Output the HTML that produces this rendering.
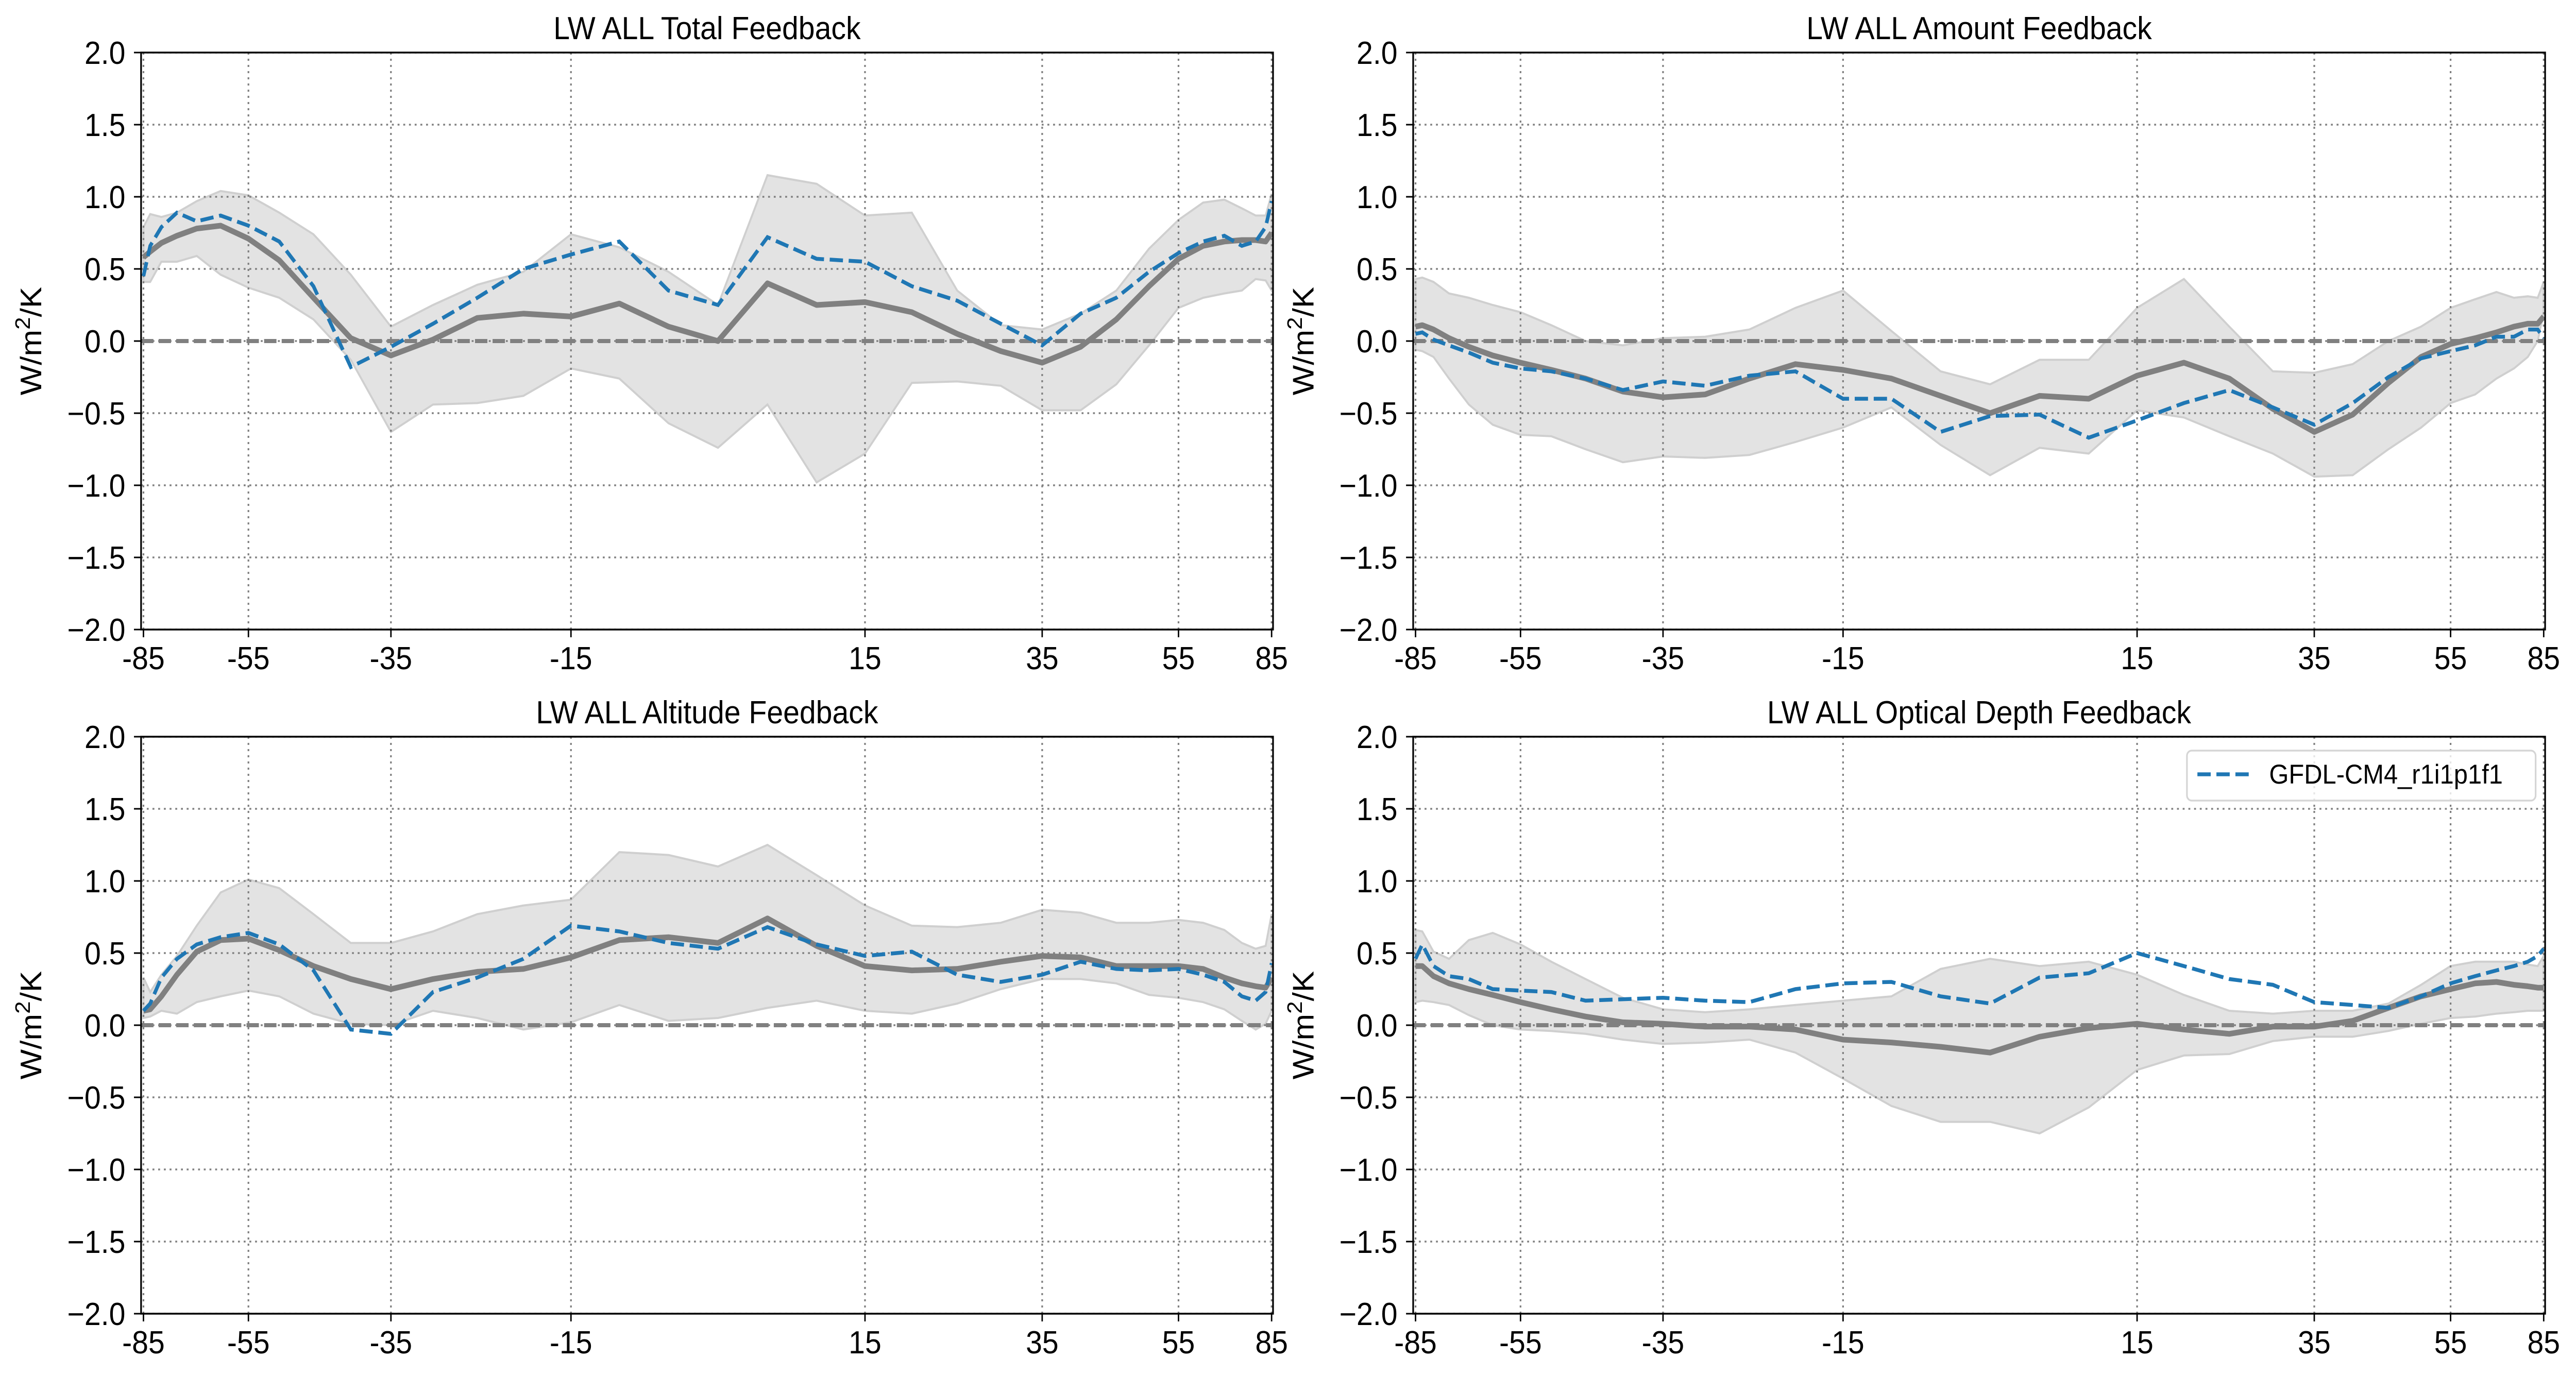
<!DOCTYPE html>
<html><head><meta charset="utf-8">
<style>
html,body{margin:0;padding:0;background:#fff;width:100%;height:100%;overflow:hidden;}
svg{display:block;position:fixed;left:0;top:0;width:100vw;height:100vh;}
text{font-family:"Liberation Sans","DejaVu Sans",sans-serif;fill:#000;}
</style></head>
<body>
<svg id="fig" xmlns="http://www.w3.org/2000/svg" viewBox="0 0 5423 2669" preserveAspectRatio="none"></svg>
<script>
const lats = [-85,-80,-75,-70,-65,-60,-55,-50,-45,-40,-35,-30,-25,-20,-15,-10,-5,0,5,10,15,20,25,30,35,40,45,50,55,60,65,70,75,80,85];
const xTickLabels = [-85,-55,-35,-15,15,35,55,85];
const yTickValues = [2.0,1.5,1.0,0.5,0.0,-0.5,-1.0,-1.5,-2.0];
const yTickLabels = ["2.0","1.5","1.0","0.5","0.0","\u22120.5","\u22121.0","\u22121.5","\u22122.0"];
const titles = ["LW ALL Total Feedback","LW ALL Amount Feedback","LW ALL Altitude Feedback","LW ALL Optical Depth Feedback"];
const legendLabel = "GFDL-CM4_r1i1p1f1";

// Panel 1: Total
const totalMean = [0.58,0.62,0.68,0.73,0.78,0.80,0.71,0.56,0.30,0.02,-0.10,0.01,0.16,0.19,0.17,0.26,0.10,0.00,0.40,0.25,0.27,0.20,0.05,-0.07,-0.15,-0.04,0.15,0.38,0.57,0.66,0.69,0.70,0.70,0.69,0.75];
const totalUpper = [0.79,0.88,0.86,0.89,0.97,1.04,1.01,0.89,0.74,0.46,0.10,0.25,0.39,0.48,0.74,0.65,0.48,0.25,1.15,1.09,0.87,0.89,0.35,0.11,0.08,0.19,0.35,0.64,0.84,0.96,0.98,0.92,0.87,0.87,1.02];
const totalLower = [0.41,0.41,0.55,0.55,0.59,0.46,0.37,0.30,0.15,-0.13,-0.63,-0.44,-0.43,-0.38,-0.19,-0.26,-0.57,-0.74,-0.44,-0.98,-0.78,-0.29,-0.28,-0.31,-0.48,-0.48,-0.30,-0.03,0.23,0.30,0.33,0.35,0.43,0.42,0.35];
const totalModel = [0.45,0.66,0.79,0.89,0.83,0.87,0.80,0.69,0.38,-0.18,-0.04,0.12,0.30,0.50,0.60,0.69,0.35,0.25,0.72,0.57,0.55,0.38,0.28,0.12,-0.03,0.19,0.30,0.48,0.61,0.69,0.73,0.66,0.69,0.79,0.97];

// Panel 2: Amount
const amountMean = [0.10,0.11,0.08,0.02,-0.04,-0.10,-0.15,-0.20,-0.26,-0.35,-0.39,-0.37,-0.26,-0.16,-0.20,-0.26,-0.38,-0.50,-0.38,-0.40,-0.24,-0.15,-0.26,-0.47,-0.63,-0.51,-0.29,-0.11,-0.02,0.02,0.06,0.10,0.12,0.12,0.17];
const amountUpper = [0.43,0.44,0.41,0.33,0.30,0.25,0.20,0.11,0.00,-0.03,0.02,0.03,0.08,0.23,0.35,0.07,-0.21,-0.30,-0.13,-0.13,0.23,0.43,0.10,-0.21,-0.22,-0.16,0.00,0.10,0.23,0.29,0.34,0.30,0.31,0.30,0.41];
const amountLower = [-0.06,-0.07,-0.11,-0.26,-0.44,-0.58,-0.65,-0.66,-0.75,-0.84,-0.80,-0.81,-0.79,-0.70,-0.60,-0.46,-0.72,-0.93,-0.74,-0.78,-0.48,-0.53,-0.66,-0.78,-0.94,-0.93,-0.75,-0.60,-0.43,-0.37,-0.26,-0.19,-0.11,0.00,0.20];
const amountModel = [0.05,0.06,0.01,-0.03,-0.08,-0.15,-0.19,-0.21,-0.26,-0.34,-0.28,-0.31,-0.24,-0.21,-0.40,-0.40,-0.63,-0.52,-0.51,-0.67,-0.55,-0.43,-0.34,-0.46,-0.58,-0.43,-0.25,-0.12,-0.07,-0.03,0.03,0.03,0.08,0.08,0.02];

// Panel 3: Altitude
const altMean = [0.10,0.11,0.20,0.35,0.51,0.59,0.60,0.52,0.41,0.32,0.25,0.32,0.37,0.39,0.47,0.59,0.61,0.57,0.74,0.55,0.41,0.38,0.39,0.44,0.48,0.47,0.41,0.41,0.41,0.39,0.33,0.29,0.27,0.26,0.33];
const altUpper = [0.33,0.23,0.35,0.48,0.69,0.92,1.01,0.95,0.77,0.57,0.57,0.65,0.77,0.83,0.87,1.20,1.18,1.10,1.25,1.04,0.83,0.69,0.68,0.71,0.80,0.78,0.71,0.71,0.73,0.71,0.66,0.57,0.53,0.55,0.77];
const altLower = [0.05,0.06,0.10,0.08,0.16,0.20,0.24,0.20,0.08,0.01,0.00,0.10,0.05,-0.03,0.02,0.14,0.03,0.05,0.12,0.17,0.10,0.08,0.15,0.25,0.32,0.32,0.29,0.21,0.19,0.16,0.11,0.03,-0.03,0.01,0.10];
const altModel = [0.10,0.15,0.33,0.46,0.56,0.61,0.64,0.56,0.38,-0.03,-0.06,0.23,0.33,0.46,0.69,0.65,0.57,0.53,0.68,0.56,0.48,0.51,0.35,0.30,0.35,0.44,0.39,0.38,0.39,0.35,0.30,0.20,0.17,0.23,0.43];

// Panel 4: Optical depth
const optMean = [0.41,0.41,0.34,0.29,0.25,0.21,0.16,0.11,0.06,0.02,0.01,-0.01,-0.01,-0.03,-0.10,-0.12,-0.15,-0.19,-0.08,-0.02,0.01,-0.03,-0.06,-0.01,-0.01,0.03,0.12,0.20,0.25,0.29,0.30,0.28,0.27,0.26,0.26];
const optUpper = [0.66,0.65,0.51,0.46,0.59,0.64,0.56,0.44,0.32,0.19,0.11,0.09,0.11,0.14,0.17,0.20,0.39,0.46,0.41,0.44,0.35,0.21,0.10,0.08,0.10,0.10,0.15,0.28,0.41,0.44,0.44,0.44,0.42,0.41,0.48];
const optLower = [0.16,0.17,0.16,0.14,0.07,0.00,-0.03,-0.04,-0.06,-0.10,-0.13,-0.12,-0.10,-0.19,-0.37,-0.56,-0.67,-0.67,-0.75,-0.57,-0.31,-0.21,-0.20,-0.11,-0.08,-0.08,-0.04,0.01,0.05,0.06,0.08,0.09,0.10,0.10,0.10];
const optModel = [0.46,0.56,0.41,0.34,0.32,0.25,0.24,0.23,0.17,0.18,0.19,0.17,0.16,0.25,0.29,0.30,0.20,0.15,0.33,0.36,0.50,0.41,0.32,0.28,0.16,0.14,0.12,0.20,0.29,0.34,0.38,0.41,0.44,0.48,0.53];

const panels = [
  {name:"total", title:titles[0], mean:totalMean, upper:totalUpper, lower:totalLower, model:totalModel, left:297, top:102, legend:false},
  {name:"amount", title:titles[1], mean:amountMean, upper:amountUpper, lower:amountLower, model:amountModel, left:2975, top:102, legend:false},
  {name:"altitude", title:titles[2], mean:altMean, upper:altUpper, lower:altLower, model:altModel, left:297, top:1430, legend:false},
  {name:"optical-depth", title:titles[3], mean:optMean, upper:optUpper, lower:optLower, model:optModel, left:2975, top:1430, legend:true}
];

const NS = "http://www.w3.org/2000/svg";
const svg = document.getElementById("fig");
const PW = 2383, PH = 1120;
const tickOffsets = [5, 226, 526, 905, 1524, 1897, 2184, 2380];

function el(tag, attrs, parent){
  const e = document.createElementNS(NS, tag);
  for (const k in attrs) e.setAttribute(k, attrs[k]);
  (parent||svg).appendChild(e);
  return e;
}
function rad(d){return d*Math.PI/180;}
function xScale(lat, left){
  const s = Math.sin(rad(lat));
  const ts = xTickLabels.map(t=>Math.sin(rad(t)));
  let i = 0;
  while (i < ts.length-2 && s > ts[i+1]) i++;
  const f = (s - ts[i])/(ts[i+1]-ts[i]);
  return left + tickOffsets[i] + f*(tickOffsets[i+1]-tickOffsets[i]);
}
function yScale(v, top){ return top + (2 - v)/4*PH; }

panels.forEach(p=>{
  const g = el("g", {});
  
  
  const L = p.left, T = p.top;
  const X = lat => xScale(lat, L);
  const Y = v => yScale(v, T);
  const clipId = "clip-" + p.name;
  const cp = el("clipPath", {id:clipId}, g);
  el("rect", {x:L, y:T, width:PW, height:PH}, cp);
  const inner = el("g", {"clip-path":"url(#"+clipId+")"}, g);

  let d = "";
  lats.forEach((la,i)=>{ d += (i?"L":"M") + X(la).toFixed(1) + "," + Y(p.upper[i]).toFixed(1); });
  for (let i = lats.length-1; i >= 0; i--) d += "L" + X(lats[i]).toFixed(1) + "," + Y(p.lower[i]).toFixed(1);
  d += "Z";
  const band = el("path", {d:d, fill:"#e3e3e3", stroke:"#cfcfcf", "stroke-width":4}, inner);
  
  

  xTickLabels.forEach(t=>{
    const gl = el("line", {x1:X(t), x2:X(t), y1:T, y2:T+PH, stroke:"#808080", "stroke-width":3.5, "stroke-dasharray":"4,8"}, inner);
    
    
  });
  yTickValues.forEach(v=>{
    const gl = el("line", {x1:L, x2:L+PW, y1:Y(v), y2:Y(v), stroke:"#808080", "stroke-width":3.5, "stroke-dasharray":"4,8"}, inner);
    
    
  });

  const z = el("line", {x1:L, x2:L+PW, y1:Y(0), y2:Y(0), stroke:"#808080", "stroke-width":8, "stroke-dasharray":"26,11"}, inner);
  
  

  let dm = "";
  lats.forEach((la,i)=>{ dm += (i?"L":"M") + X(la).toFixed(1) + "," + Y(p.mean[i]).toFixed(1); });
  const ml = el("path", {d:dm, fill:"none", stroke:"#808080", "stroke-width":11, "stroke-linejoin":"round"}, inner);
  
  

  let db = "";
  lats.forEach((la,i)=>{ db += (i?"L":"M") + X(la).toFixed(1) + "," + Y(p.model[i]).toFixed(1); });
  const bl = el("path", {d:db, fill:"none", stroke:"#1f77b4", "stroke-width":7.5, "stroke-dasharray":"28,12"}, inner);
  
  

  const fr = el("rect", {x:L, y:T, width:PW, height:PH, fill:"none", stroke:"#000", "stroke-width":3.5}, g);
  
  

  xTickLabels.forEach(t=>{
    const tk = el("line", {x1:X(t), x2:X(t), y1:T+PH, y2:T+PH+15, stroke:"#000", "stroke-width":3}, g);
    
    
    const tx = el("text", {x:X(t), y:T+PH+77, "font-size":62, "text-anchor":"middle"}, g);
    tx.textContent = String(t);
    
    
  });
  yTickValues.forEach((v,i)=>{
    const tk = el("line", {x1:L-15, x2:L, y1:Y(v), y2:Y(v), stroke:"#000", "stroke-width":3}, g);
    
    
    const tx = el("text", {x:L-33, y:Y(v)+22, "font-size":62, "text-anchor":"end"}, g);
    tx.textContent = yTickLabels[i];
    
    
  });
  const tt = el("text", {x:L+PW/2, y:T-26, "font-size":62, "text-anchor":"middle"}, g);
  tt.textContent = p.title;
  
  
  const yl = el("text", {x:0, y:0, "font-size":62, "text-anchor":"middle", transform:"translate("+(L-210)+","+(T+PH/2)+") rotate(-90)"}, g);
  yl.innerHTML = 'W/m<tspan dy="-24" font-size="44">2</tspan><tspan dy="24">/K</tspan>';
  
  

  if (p.legend){
    const lg = el("g", {}, g);
    
    
    el("rect", {x:4604, y:1457, width:734, height:97, rx:10, fill:"#fff", "fill-opacity":0.8, stroke:"#d5d5d5", "stroke-width":3.5}, lg);
    const ls = el("line", {x1:4626, x2:4736, y1:1503, y2:1503, stroke:"#1f77b4", "stroke-width":7.5, "stroke-dasharray":"28,12"}, lg);
    
    
    const lt = el("text", {x:4777, y:1521, "font-size":53}, lg);
    lt.textContent = legendLabel;
    
    
  }
});
</script>
</body></html>
